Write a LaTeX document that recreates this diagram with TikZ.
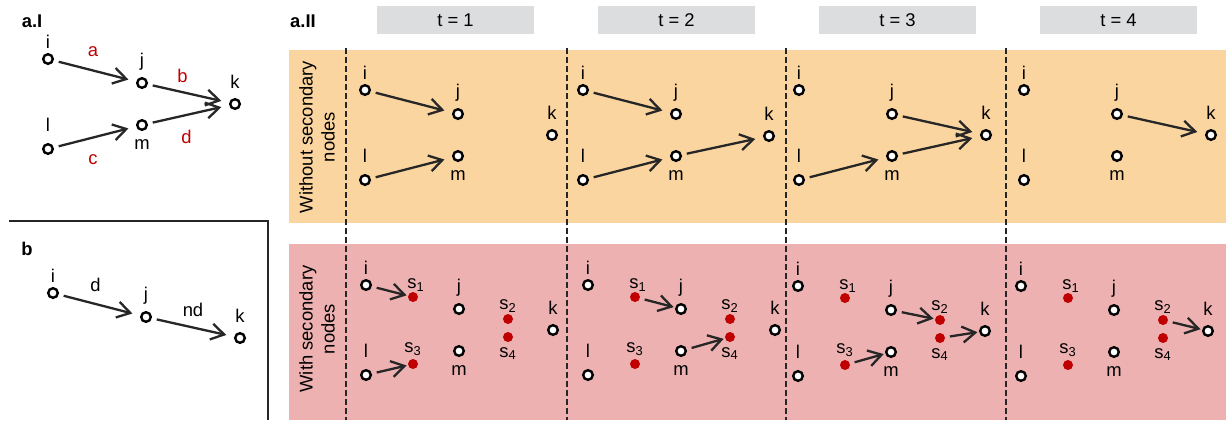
\documentclass[tikz,border=0pt]{standalone}
\usepackage{fontspec}
\setmainfont{Liberation Sans}
\usetikzlibrary{arrows.meta}
\definecolor{peach}{RGB}{251,213,160}
\definecolor{rose}{RGB}{237,177,178}
\definecolor{hdrgray}{RGB}{220,221,223}
\definecolor{dotred}{RGB}{192,0,0}
\definecolor{ink}{RGB}{38,38,38}

\begin{document}
\begin{tikzpicture}[x=0.5pt,y=-0.5pt,
      every node/.style={font=\fontsize{9.2}{11}\selectfont},
      wn/.style={circle,draw=black,fill=white,line width=1.2pt,minimum size=4.8pt,inner sep=0pt},
      rn/.style={circle,fill=dotred,minimum size=5pt,inner sep=0pt,outer sep=0pt},
      lab/.style={inner sep=0pt},
      ni/.style={wn,label={[lab,label distance=2pt]above:i}},
      nj/.style={wn,label={[lab,label distance=3pt]above:j}},
      nk/.style={wn,label={[lab,label distance=4.5pt]above:k}},
      nl/.style={wn,label={[lab,label distance=5.5pt]above:l}},
      nm/.style={wn,label={[lab,label distance=4pt]below:m}},
      ns1/.style={rn,label={[lab,label distance=0pt,xshift=1.5pt]above:s\textsubscript{1}}},
      ns2/.style={rn,label={[lab,label distance=0.5pt]above:s\textsubscript{2}}},
      ns3/.style={rn,label={[lab,label distance=1.5pt]above:s\textsubscript{3}}},
      ns4/.style={rn,label={[lab,label distance=2.5pt]below:s\textsubscript{4}}},
      arr/.style={draw=ink,line width=1.15pt,-{Straight Barb[length=6.5pt,width=8pt]},shorten <=2.5pt,shorten >=4pt},
      hop/.style={arr,shorten <=2.5pt,shorten >=0.8pt},
      elab/.style={text=dotred,inner sep=0pt},
      hdr/.style={fill=hdrgray,minimum width=78.5pt,minimum height=14pt,inner sep=0pt},
      sep/.style={draw=ink,line width=1pt,dash pattern=on 3pt off 1.5pt},
      side/.style={rotate=90,align=center,inner sep=0pt},
      title/.style={font=\fontsize{9.2}{11}\selectfont\bfseries,inner sep=0pt}]
      \useasboundingbox (0,0) rectangle (1232,420);

      % bands
      \fill[peach] (289,50) rectangle (1226,223);
      \fill[rose] (289,244) rectangle (1226,420);
      \draw[sep] (346,48) -- (346,420);
      \draw[sep] (567,48) -- (567,420);
      \draw[sep] (786,48) -- (786,420);
      \draw[sep] (1006,48) -- (1006,420);
      \draw[ink,line width=1pt] (9,221) -- (268,221) -- (268,420);

      \node[title] (tai) at (32,21.5) {a.I};
      \node[title] (taii) at (303,21.5) {a.II};
      \node[title] (tb) at (27,248.5) {b};
      \node[hdr] (h1) at (455.5,20) {t = 1};
      \node[hdr] (h2) at (676.5,20) {t = 2};
      \node[hdr] (h3) at (897.5,20) {t = 3};
      \node[hdr] (h4) at (1118.5,20) {t = 4};
      \node[side] (wo) at (317,137) {Without secondary\\nodes};
      \node[side] (wi) at (317,329) {With secondary\\nodes};

      % a.I
      \node[ni] (i) at (48,59) {};
      \node[nj] (j) at (142,83) {};
      \node[nk] (k) at (235,104) {};
      \node[nl] (l) at (48,149) {};
      \node[nm] (m) at (142,125) {};
      \draw[arr] (i) -- node[elab,above=6.5pt,xshift=-1pt] {a} (j);
      \draw[arr] (j) -- node[elab,above=5pt,xshift=-3pt] {b} (k);
      \draw[arr] (l) -- node[elab,below=8pt,xshift=-1pt] {c} (m);
      \draw[arr] (m) -- node[elab,below=7.5pt,xshift=-1pt] {d} (k);

      % b
      \node[ni] (bi) at (53,293) {};
      \node[nj] (bj) at (146,317) {};
      \node[nk] (bk) at (240,338) {};
      \draw[arr] (bi) -- node[inner sep=0pt,above=6pt,xshift=-2pt] {d} (bj);
      \draw[arr] (bj) -- node[inner sep=0pt,above=4.75pt] {nd} (bk);

      % without secondary nodes
      \node[ni] (i1) at (365,90) {};
      \node[nj] (j1) at (458,114) {};
      \node[nk] (k1) at (552,135) {};
      \node[nl] (l1) at (365,180) {};
      \node[nm] (m1) at (458,156) {};
      \node[ni] (i2) at (583,90) {};
      \node[nj] (j2) at (676,114) {};
      \node[nk] (k2) at (769,136) {};
      \node[nl] (l2) at (583,180) {};
      \node[nm] (m2) at (676,156) {};
      \node[ni] (i3) at (799,90) {};
      \node[nj] (j3) at (892,114) {};
      \node[nk] (k3) at (986,135) {};
      \node[nl] (l3) at (799,180) {};
      \node[nm] (m3) at (892,156) {};
      \node[ni] (i4) at (1024,90) {};
      \node[nj] (j4) at (1117,114) {};
      \node[nk] (k4) at (1211,135) {};
      \node[nl] (l4) at (1024,180) {};
      \node[nm] (m4) at (1117,156) {};

      \draw[arr] (i1) -- (j1);
      \draw[arr] (l1) -- (m1);
      \draw[arr] (i2) -- (j2);
      \draw[arr] (l2) -- (m2);
      \draw[arr] (m2) -- (k2);
      \draw[arr] (l3) -- (m3);
      \draw[arr] (j3) -- (k3);
      \draw[arr] (m3) -- (k3);
      \draw[arr] (j4) -- (k4);

      % with secondary nodes
      \node[ni] (pi1) at (366,285) {};
      \node[ns1] (s1t1) at (413,297) {};
      \node[nj] (pj1) at (459,309) {};
      \node[ns2] (s2t1) at (508,319) {};
      \node[ns4] (s4t1) at (508,337) {};
      \node[nk] (pk1) at (553,330) {};
      \node[nm] (pm1) at (459,351) {};
      \node[ns3] (s3t1) at (413,364) {};
      \node[nl] (pl1) at (366,375) {};

      \node[ni] (pi2) at (588,285) {};
      \node[ns1] (s1t2) at (635,297) {};
      \node[nj] (pj2) at (681,309) {};
      \node[ns2] (s2t2) at (730,319) {};
      \node[ns4] (s4t2) at (730,337) {};
      \node[nk] (pk2) at (775,330) {};
      \node[nm] (pm2) at (681,351) {};
      \node[ns3] (s3t2) at (635,364) {};
      \node[nl] (pl2) at (588,375) {};

      \node[ni] (pi3) at (798,286) {};
      \node[ns1] (s1t3) at (845,298) {};
      \node[nj] (pj3) at (891,310) {};
      \node[ns2] (s2t3) at (940,320) {};
      \node[ns4] (s4t3) at (940,338) {};
      \node[nk] (pk3) at (985,331) {};
      \node[nm] (pm3) at (891,352) {};
      \node[ns3] (s3t3) at (845,365) {};
      \node[nl] (pl3) at (798,376) {};

      \node[ni] (pi4) at (1021,286) {};
      \node[ns1] (s1t4) at (1068,298) {};
      \node[nj] (pj4) at (1114,310) {};
      \node[ns2] (s2t4) at (1163,320) {};
      \node[ns4] (s4t4) at (1163,338) {};
      \node[nk] (pk4) at (1208,331) {};
      \node[nm] (pm4) at (1114,352) {};
      \node[ns3] (s3t4) at (1068,365) {};
      \node[nl] (pl4) at (1021,376) {};

      \draw[hop] (pi1) -- (s1t1);
      \draw[hop] (pl1) -- (s3t1);
      \draw[hop] (s1t2) -- (pj2);
      \draw[hop] (pm2) -- (s4t2);
      \draw[hop] (pj3) -- (s2t3);
      \draw[hop] (s3t3) -- (pm3);
      \draw[hop] (s4t3) -- (pk3);
      \draw[hop] (s2t4) -- (pk4);

    \end{tikzpicture}
\end{document}
